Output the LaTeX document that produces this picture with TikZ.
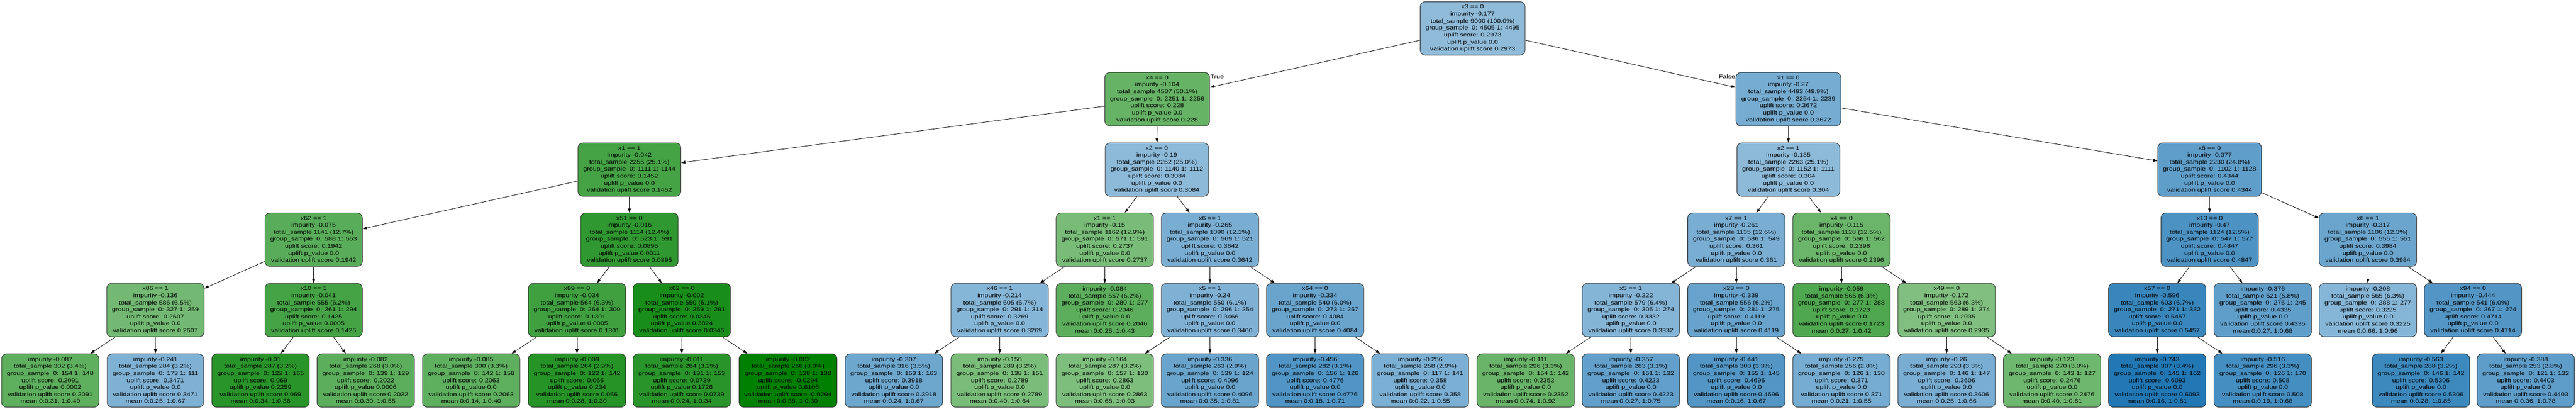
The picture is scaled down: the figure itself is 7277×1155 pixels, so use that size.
\documentclass[tikz,border=0pt]{standalone}
\usepackage{fontspec}
\setmainfont{Liberation Sans}[FakeStretch=1.2]
\usetikzlibrary{arrows.meta}
\definecolor{upgreen}{RGB}{0,128,0}
\definecolor{upblue}{RGB}{31,119,180}
\newcommand{\ustats}[7]{impurity #1\\total\_sample #2 (#3\%)\\group\_sample\ \ 0: #4 1: #5\\uplift score: #6\\uplift p\_value #7\\validation uplift score #6}
\begin{document}
\begin{tikzpicture}[>={Triangle[length=2.4mm,width=1.6mm]},x=0.02cm,y=-0.02cm,
	font=\fontsize{9}{11.28}\selectfont,
	tn/.style={draw=black!80,line width=0.85pt,rounded corners=0.28cm,align=center,anchor=north,
		minimum height=3.02cm,inner xsep=0.3cm,inner ysep=0pt},
	upl/.code={\pgfmathsetmacro\uplt{(#1)-0.2973}%
		\ifdim\uplt pt<0pt
			\pgfmathtruncatemacro\uplp{50+50*(0.2973-(#1))/0.3267}%
			\edef\uplc{\noexpand\pgfkeysalso{fill=upgreen!\uplp!white}}%
		\else
			\pgfmathtruncatemacro\uplp{50+50*((#1)-0.2973)/0.312}%
			\edef\uplc{\noexpand\pgfkeysalso{fill=upblue!\uplp!white}}%
		\fi
		\uplc},
	link/.style={->,line width=0.7pt}]
	\useasboundingbox (0,0) rectangle (7277,1155);
	% root and first split
	\node[tn,upl=0.2973] (n) at (4160,4) {x3 == 0\\\ustats{-0.177}{9000}{100.0}{4505}{4495}{0.2973}{0.0}};
	\node[tn,upl=0.228] (nL) at (3269,204) {x4 == 0\\\ustats{-0.104}{4507}{50.1}{2251}{2256}{0.228}{0.0}};
	\node[tn,upl=0.3672] (nR) at (5052,204) {x1 == 0\\\ustats{-0.27}{4493}{49.9}{2254}{2239}{0.3672}{0.0}};
	\node[anchor=west,inner sep=0.5pt] (ltrue) at ([yshift=-0.24cm]nL.north east) {True};
	\node[anchor=east,inner sep=0.5pt] (lfalse) at ([yshift=-0.24cm]nR.north west) {False};
	% depth 2
	\node[tn,upl=0.1452] (nLL) at (1778,403) {x1 == 1\\\ustats{-0.042}{2255}{25.1}{1111}{1144}{0.1452}{0.0}};
	\node[tn,upl=0.3084] (nLR) at (3268,403) {x2 == 0\\\ustats{-0.19}{2252}{25.0}{1140}{1112}{0.3084}{0.0}};
	\node[tn,upl=0.304] (nRL) at (5052,403) {x2 == 1\\\ustats{-0.185}{2263}{25.1}{1152}{1111}{0.304}{0.0}};
	\node[tn,upl=0.4344] (nRR) at (6242,403) {x8 == 0\\\ustats{-0.377}{2230}{24.8}{1102}{1128}{0.4344}{0.0}};
	% depth 3
	\node[tn,upl=0.1942] (nLLL) at (886,601) {x62 == 1\\\ustats{-0.075}{1141}{12.7}{588}{553}{0.1942}{0.0}};
	\node[tn,upl=0.0895] (nLLR) at (1778,601) {x51 == 0\\\ustats{-0.016}{1114}{12.4}{523}{591}{0.0895}{0.0011}};
	\node[tn,upl=0.2737] (nLRL) at (3121,601) {x1 == 1\\\ustats{-0.15}{1162}{12.9}{571}{591}{0.2737}{0.0}};
	\node[tn,upl=0.3642] (nLRR) at (3418,601) {x6 == 1\\\ustats{-0.265}{1090}{12.1}{569}{521}{0.3642}{0.0}};
	\node[tn,upl=0.361] (nRLL) at (4905,601) {x7 == 1\\\ustats{-0.261}{1135}{12.6}{586}{549}{0.361}{0.0}};
	\node[tn,upl=0.2396] (nRLR) at (5202,601) {x4 == 0\\\ustats{-0.115}{1128}{12.5}{566}{562}{0.2396}{0.0}};
	\node[tn,upl=0.4847] (nRRL) at (6242,601) {x13 == 0\\\ustats{-0.47}{1124}{12.5}{547}{577}{0.4847}{0.0}};
	\node[tn,upl=0.3984] (nRRR) at (6689,601) {x6 == 1\\\ustats{-0.317}{1106}{12.3}{555}{551}{0.3984}{0.0}};
	% depth 4
	\node[tn,upl=0.2607] (nLLLL) at (439,800) {x86 == 1\\\ustats{-0.136}{586}{6.5}{327}{259}{0.2607}{0.0}};
	\node[tn,upl=0.1425] (nLLLR) at (886,800) {x10 == 1\\\ustats{-0.041}{555}{6.2}{261}{294}{0.1425}{0.0005}};
	\node[tn,upl=0.1301] (nLLRL) at (1630,800) {x89 == 0\\\ustats{-0.034}{564}{6.3}{264}{300}{0.1301}{0.0005}};
	\node[tn,upl=0.0345] (nLLRR) at (1926,800) {x62 == 0\\\ustats{-0.002}{550}{6.1}{259}{291}{0.0345}{0.3824}};
	\node[tn,upl=0.3269] (nLRLL) at (2824,800) {x46 == 1\\\ustats{-0.214}{605}{6.7}{291}{314}{0.3269}{0.0}};
	\node[tn,upl=0.2046] (nLRLR) at (3121,800) {\ustats{-0.084}{557}{6.2}{280}{277}{0.2046}{0.0}\\mean 0:0.25, 1:0.43};
	\node[tn,upl=0.3466] (nLRRL) at (3418,800) {x5 == 1\\\ustats{-0.24}{550}{6.1}{296}{254}{0.3466}{0.0}};
	\node[tn,upl=0.4084] (nLRRR) at (3715,800) {x64 == 0\\\ustats{-0.334}{540}{6.0}{273}{267}{0.4084}{0.0}};
	\node[tn,upl=0.3332] (nRLLL) at (4607,800) {x5 == 1\\\ustats{-0.222}{579}{6.4}{305}{274}{0.3332}{0.0}};
	\node[tn,upl=0.4119] (nRLLR) at (4905,800) {x23 == 0\\\ustats{-0.339}{556}{6.2}{281}{275}{0.4119}{0.0}};
	\node[tn,upl=0.1723] (nRLRL) at (5202,800) {\ustats{-0.059}{565}{6.3}{277}{288}{0.1723}{0.0}\\mean 0:0.27, 1:0.42};
	\node[tn,upl=0.2935] (nRLRR) at (5499,800) {x49 == 0\\\ustats{-0.172}{563}{6.3}{289}{274}{0.2935}{0.0}};
	\node[tn,upl=0.5457] (nRRLL) at (6094,800) {x57 == 0\\\ustats{-0.596}{603}{6.7}{271}{332}{0.5457}{0.0}};
	\node[tn,upl=0.4335] (nRRLR) at (6392,800) {\ustats{-0.376}{521}{5.8}{276}{245}{0.4335}{0.0}\\mean 0:0.27, 1:0.68};
	\node[tn,upl=0.3225] (nRRRL) at (6689,800) {\ustats{-0.208}{565}{6.3}{288}{277}{0.3225}{0.0}\\mean 0:0.66, 1:0.96};
	\node[tn,upl=0.4714] (nRRRR) at (6986,800) {x94 == 0\\\ustats{-0.444}{541}{6.0}{267}{274}{0.4714}{0.0}};
	% leaves
	\node[tn,upl=0.2091] (nLLLLL) at (142,999) {\ustats{-0.087}{302}{3.4}{154}{148}{0.2091}{0.0002}\\mean 0:0.31, 1:0.49};
	\node[tn,upl=0.3471] (nLLLLR) at (439,999) {\ustats{-0.241}{284}{3.2}{173}{111}{0.3471}{0.0}\\mean 0:0.25, 1:0.67};
	\node[tn,upl=0.069] (nLLLRL) at (736,999) {\ustats{-0.01}{287}{3.2}{122}{165}{0.069}{0.2259}\\mean 0:0.34, 1:0.36};
	\node[tn,upl=0.2022] (nLLLRR) at (1033,999) {\ustats{-0.082}{268}{3.0}{139}{129}{0.2022}{0.0006}\\mean 0:0.30, 1:0.55};
	\node[tn,upl=0.2063] (nLLRLL) at (1331,999) {\ustats{-0.085}{300}{3.3}{142}{158}{0.2063}{0.0}\\mean 0:0.14, 1:0.40};
	\node[tn,upl=0.066] (nLLRLR) at (1630,999) {\ustats{-0.009}{264}{2.9}{122}{142}{0.066}{0.234}\\mean 0:0.28, 1:0.30};
	\node[tn,upl=0.0739] (nLLRRL) at (1926,999) {\ustats{-0.011}{284}{3.2}{131}{153}{0.0739}{0.1726}\\mean 0:0.24, 1:0.34};
	\node[tn,upl=-0.0294] (nLLRRR) at (2226,999) {\ustats{-0.002}{266}{3.0}{128}{138}{-0.0294}{0.6106}\\mean 0:0.38, 1:0.30};
	\node[tn,upl=0.3918] (nLRLLL) at (2525,999) {\ustats{-0.307}{316}{3.5}{153}{163}{0.3918}{0.0}\\mean 0:0.24, 1:0.67};
	\node[tn,upl=0.2789] (nLRLLR) at (2824,999) {\ustats{-0.156}{289}{3.2}{138}{151}{0.2789}{0.0}\\mean 0:0.40, 1:0.64};
	\node[tn,upl=0.2863] (nLRRLL) at (3121,999) {\ustats{-0.164}{287}{3.2}{157}{130}{0.2863}{0.0}\\mean 0:0.68, 1:0.93};
	\node[tn,upl=0.4096] (nLRRLR) at (3418,999) {\ustats{-0.336}{263}{2.9}{139}{124}{0.4096}{0.0}\\mean 0:0.35, 1:0.81};
	\node[tn,upl=0.4776] (nLRRRL) at (3715,999) {\ustats{-0.456}{282}{3.1}{156}{126}{0.4776}{0.0}\\mean 0:0.18, 1:0.71};
	\node[tn,upl=0.358] (nLRRRR) at (4012,999) {\ustats{-0.256}{258}{2.9}{117}{141}{0.358}{0.0}\\mean 0:0.22, 1:0.55};
	\node[tn,upl=0.2352] (nRLLLL) at (4310,999) {\ustats{-0.111}{296}{3.3}{154}{142}{0.2352}{0.0}\\mean 0:0.74, 1:0.92};
	\node[tn,upl=0.4223] (nRLLLR) at (4607,999) {\ustats{-0.357}{283}{3.1}{151}{132}{0.4223}{0.0}\\mean 0:0.27, 1:0.75};
	\node[tn,upl=0.4696] (nRLLRL) at (4905,999) {\ustats{-0.441}{300}{3.3}{155}{145}{0.4696}{0.0}\\mean 0:0.16, 1:0.67};
	\node[tn,upl=0.371] (nRLLRR) at (5202,999) {\ustats{-0.275}{256}{2.8}{126}{130}{0.371}{0.0}\\mean 0:0.21, 1:0.55};
	\node[tn,upl=0.3606] (nRLRRL) at (5499,999) {\ustats{-0.26}{293}{3.3}{146}{147}{0.3606}{0.0}\\mean 0:0.25, 1:0.66};
	\node[tn,upl=0.2476] (nRLRRR) at (5797,999) {\ustats{-0.123}{270}{3.0}{143}{127}{0.2476}{0.0}\\mean 0:0.40, 1:0.61};
	\node[tn,upl=0.6093] (nRRLLL) at (6094,999) {\ustats{-0.743}{307}{3.4}{145}{162}{0.6093}{0.0}\\mean 0:0.16, 1:0.81};
	\node[tn,upl=0.508] (nRRLLR) at (6392,999) {\ustats{-0.516}{296}{3.3}{126}{170}{0.508}{0.0}\\mean 0:0.19, 1:0.68};
	\node[tn,upl=0.5306] (nRRRRL) at (6839,999) {\ustats{-0.563}{288}{3.2}{146}{142}{0.5306}{0.0}\\mean 0:0.28, 1:0.85};
	\node[tn,upl=0.4403] (nRRRRR) at (7135,999) {\ustats{-0.388}{253}{2.8}{121}{132}{0.4403}{0.0}\\mean 0:0.36, 1:0.78};
	% splits
	\draw[link] (n) -- (nL); \draw[link] (n) -- (nR);
	\draw[link] (nL) -- (nLL); \draw[link] (nL) -- (nLR);
	\draw[link] (nR) -- (nRL); \draw[link] (nR) -- (nRR);
	\draw[link] (nLL) -- (nLLL); \draw[link] (nLL) -- (nLLR);
	\draw[link] (nLR) -- (nLRL); \draw[link] (nLR) -- (nLRR);
	\draw[link] (nRL) -- (nRLL); \draw[link] (nRL) -- (nRLR);
	\draw[link] (nRR) -- (nRRL); \draw[link] (nRR) -- (nRRR);
	\draw[link] (nLLL) -- (nLLLL); \draw[link] (nLLL) -- (nLLLR);
	\draw[link] (nLLR) -- (nLLRL); \draw[link] (nLLR) -- (nLLRR);
	\draw[link] (nLRL) -- (nLRLL); \draw[link] (nLRL) -- (nLRLR);
	\draw[link] (nLRR) -- (nLRRL); \draw[link] (nLRR) -- (nLRRR);
	\draw[link] (nRLL) -- (nRLLL); \draw[link] (nRLL) -- (nRLLR);
	\draw[link] (nRLR) -- (nRLRL); \draw[link] (nRLR) -- (nRLRR);
	\draw[link] (nRRL) -- (nRRLL); \draw[link] (nRRL) -- (nRRLR);
	\draw[link] (nRRR) -- (nRRRL); \draw[link] (nRRR) -- (nRRRR);
	\draw[link] (nLLLL) -- (nLLLLL); \draw[link] (nLLLL) -- (nLLLLR);
	\draw[link] (nLLLR) -- (nLLLRL); \draw[link] (nLLLR) -- (nLLLRR);
	\draw[link] (nLLRL) -- (nLLRLL); \draw[link] (nLLRL) -- (nLLRLR);
	\draw[link] (nLLRR) -- (nLLRRL); \draw[link] (nLLRR) -- (nLLRRR);
	\draw[link] (nLRLL) -- (nLRLLL); \draw[link] (nLRLL) -- (nLRLLR);
	\draw[link] (nLRRL) -- (nLRRLL); \draw[link] (nLRRL) -- (nLRRLR);
	\draw[link] (nLRRR) -- (nLRRRL); \draw[link] (nLRRR) -- (nLRRRR);
	\draw[link] (nRLLL) -- (nRLLLL); \draw[link] (nRLLL) -- (nRLLLR);
	\draw[link] (nRLLR) -- (nRLLRL); \draw[link] (nRLLR) -- (nRLLRR);
	\draw[link] (nRLRR) -- (nRLRRL); \draw[link] (nRLRR) -- (nRLRRR);
	\draw[link] (nRRLL) -- (nRRLLL); \draw[link] (nRRLL) -- (nRRLLR);
	\draw[link] (nRRRR) -- (nRRRRL); \draw[link] (nRRRR) -- (nRRRRR);
\end{tikzpicture}
\end{document}
